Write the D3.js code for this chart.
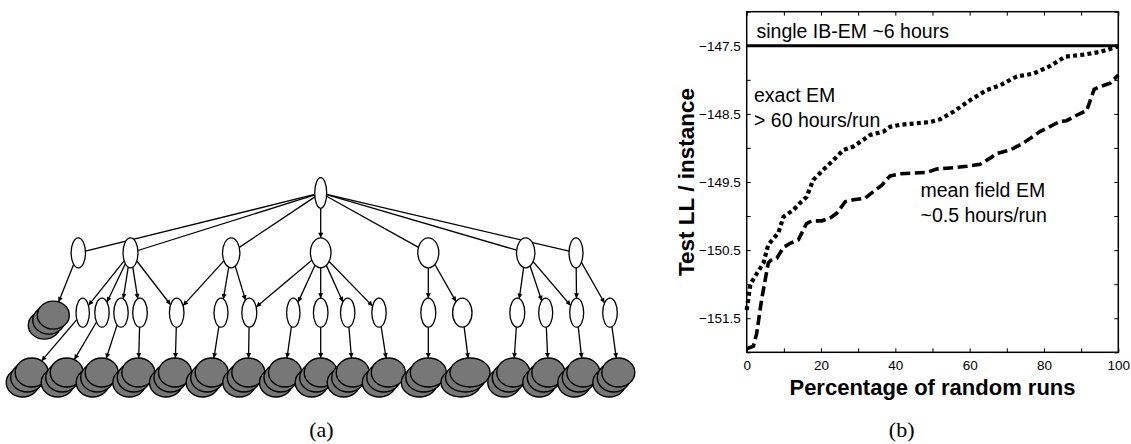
<!DOCTYPE html>
<html><head><meta charset="utf-8">
<script src="https://cdn.jsdelivr.net/npm/d3@7"></script>
<style>
html,body{margin:0;padding:0;background:#fff;}
svg{display:block;}
</style></head>
<body>
<svg id="c" width="1131" height="444"></svg>
<script>
// ---------- Panel (b) data ----------
const exactX = [0,1,2.2,4.5,5.8,8.5,9.9,12.6,14.3,16.1,17.9,20.6,23.3,26,28.7,31.4,33.2,36.8,38.6,41.3,49.3,52,55.6,60.1,64.6,68.2,72.7,77.1,81.6,85.7,90.6,95.1,100];
const exactY = [-151.38,-151.0,-150.89,-150.69,-150.42,-150.25,-150.01,-149.91,-149.81,-149.72,-149.47,-149.32,-149.18,-149.03,-148.98,-148.88,-148.81,-148.76,-148.69,-148.66,-148.62,-148.58,-148.47,-148.3,-148.15,-148.08,-147.95,-147.91,-147.8,-147.66,-147.63,-147.59,-147.51];
const meanX = [0,1.8,2.7,4,5.8,6.5,8.1,9.9,11.7,13.9,16.1,17.5,20.2,22.4,24.2,26.5,28.7,31.8,34.1,36.3,38.6,41.3,48.4,51.1,55.6,59.2,62.8,65.5,67.3,70.9,74.4,78.9,84.3,86.1,88.8,91.5,93.5,95.1,97.8,100];
const meanY = [-151.95,-151.91,-151.72,-151.23,-150.69,-150.65,-150.62,-150.46,-150.4,-150.35,-150.11,-150.07,-150.07,-150.03,-149.96,-149.79,-149.76,-149.74,-149.64,-149.55,-149.41,-149.38,-149.36,-149.31,-149.29,-149.27,-149.24,-149.15,-149.08,-149.03,-148.93,-148.76,-148.61,-148.6,-148.52,-148.45,-148.14,-148.1,-148.05,-147.93];
const ibemValue = -147.5;
const xTicks = [0,10,20,30,40,50,60,70,80,90,100];
const yTicks = [-152,-151.5,-151,-150.5,-150,-149.5,-149,-148.5,-148,-147.5,-147];
const xTitle = "Percentage of random runs";
const yTitle = "Test LL / instance";

// ---------- Panel (a) data (diagram units) ----------
const rootX = [320.7];
const level1X = [78.3,130.5,231.2,320.7,428.3,525.7,576];
const level1Rx = [7.2,7.5,8.7,10.3,10.5,9.2,7];
const level2X = [82.7,102,121,140,176.7,221,249.3,293.3,320.7,347.7,379,428.3,462.3,517.3,545.7,576.7,610];
const level2Rx = [6.7,7.2,7.2,7.3,7.3,7,7.5,6.7,7.3,7.2,7.2,7.5,9.7,7.5,7,7,7.3];
const leafStackX = [53.3];           // observed stack hanging off level 1
const bottomStackX = [31.7,66.7,101.7,138.3,175,211.7,248.3,285,320.7,352.7,388.3,428.3,470,513.3,548.3,583.3,618.3];
const bottomStackRx = [16.5,16.5,16.5,16.5,16.5,16.5,16.5,16.5,16.5,16.5,17,18,20,16.5,16.5,16.5,16.5];
// parent (level1 index) -> children (level2 index)
const l1Children = [[],[0,1,2,3,4],[4,5,6],[6,7,8,9,10],[11,12],[13,14,15],[15,16]];

const svg = d3.select("#c");
const FS = "'Liberation Sans', Arial, Helvetica, sans-serif";

// ================= Panel (a) =================
const gx = d3.scaleLinear().domain([0,640]).range([0,640]);
const gy = d3.scaleLinear().domain([0,3]).range([193,372.5]);
const ga = svg.append("g");
const defs = svg.append("defs");
defs.append("marker").attr("id","arr").attr("viewBox","0 0 10 10")
  .attr("refX",10).attr("refY",5).attr("markerWidth",6).attr("markerHeight",5)
  .attr("markerUnits","userSpaceOnUse").attr("orient","auto")
  .append("path").attr("d","M0,0L10,5L0,10z").attr("fill","#000");

const rootNode = {x:gx(rootX[0]), y:gy(0), rx:6, ry:15.3};
const l1Nodes = level1X.map((v,i)=>({x:gx(v), y:gy(1), rx:level1Rx[i], ry:15}));
const l2Nodes = level2X.map((v,i)=>({x:gx(v), y:gy(2), rx:level2Rx[i], ry:14.5}));
const leafStacks = leafStackX.map(v=>({x:gx(v), y:gy(2)+2.5, rx:16, ry:14}));
const botStacks = bottomStackX.map((v,i)=>({x:gx(v), y:gy(3), rx:bottomStackRx[i], ry:14.5}));

const edges = [];
l1Nodes.forEach(n=>edges.push([rootNode,n]));
edges.push([l1Nodes[0], leafStacks[0]]);
l1Children.forEach((ch,i)=>ch.forEach(j=>edges.push([l1Nodes[i], l2Nodes[j]])));
l2Nodes.forEach((n,i)=>edges.push([n, botStacks[i]]));

function clip(n, dx, dy){
  const s = 1/Math.sqrt((dx/n.rx)**2 + (dy/n.ry)**2);
  return [n.x+dx*s, n.y+dy*s];
}
ga.selectAll("line.e").data(edges).join("line").attr("class","e")
  .each(function(d){
    const [a,b]=d; const dx=b.x-a.x, dy=b.y-a.y;
    const p=clip(a,dx,dy), q=clip(b,-dx,-dy);
    const arrow = Math.abs(dx) < 1.25*Math.abs(dy);
    d3.select(this).attr("x1",p[0]).attr("y1",p[1]).attr("x2",q[0]).attr("y2",q[1])
      .attr("stroke","#000").attr("stroke-width",1.3)
      .attr("marker-end", arrow ? "url(#arr)" : null);
  });

const ovals = [rootNode, ...l1Nodes, ...l2Nodes];
ga.selectAll("ellipse.n").data(ovals).join("ellipse").attr("class","n")
  .attr("cx",d=>d.x).attr("cy",d=>d.y).attr("rx",d=>d.rx).attr("ry",d=>d.ry)
  .attr("fill","#fff").attr("stroke","#000").attr("stroke-width",1.3);

function drawStack(g, s){
  [2,1,0].forEach(k=>{
    g.append("ellipse").attr("cx",s.x-4.5*k).attr("cy",s.y+5*k)
      .attr("rx",s.rx).attr("ry",s.ry)
      .attr("fill","#777").attr("stroke","#000").attr("stroke-width",1.4);
  });
}
[...leafStacks, ...botStacks].forEach(s=>drawStack(ga,s));

ga.append("text").attr("x",321.5).attr("y",437).attr("text-anchor","middle")
  .attr("font-family","'Liberation Serif', 'Times New Roman', serif").attr("font-size",22)
  .text("(a)");

// ================= Panel (b) =================
const x = d3.scaleLinear().domain([0,100]).range([746.7,1118.3]);
const y = d3.scaleLinear().domain([-152,-147]).range([352.3,11.7]);
const gb = svg.append("g");

// axes with inward ticks
const axB = d3.axisBottom(x).tickValues(xTicks).tickSizeInner(-4).tickSizeOuter(0).tickPadding(8.5)
  .tickFormat(d=> d%20===0 ? d : "");
const axT = d3.axisTop(x).tickValues(xTicks).tickSizeInner(-4).tickSizeOuter(0).tickFormat("");
const axL = d3.axisLeft(y).tickValues(yTicks).tickSizeInner(-4).tickSizeOuter(0).tickPadding(6)
  .tickFormat(d=> Math.abs(d%1)===0.5 ? d3.format(".1f")(d) : "");
const axR = d3.axisRight(y).tickValues(yTicks).tickSizeInner(-4).tickSizeOuter(0).tickFormat("");

function styleAxis(g){
  g.select(".domain").remove();
  g.selectAll("line").attr("stroke","#000").attr("stroke-width",1);
  g.selectAll("text").attr("font-family",FS).attr("font-size",13.5).attr("fill","#000");
}
gb.append("g").attr("transform",`translate(0,${y(-152)})`).call(axB).call(styleAxis);
gb.append("g").attr("transform",`translate(0,${y(-147)})`).call(axT).call(styleAxis);
gb.append("g").attr("transform",`translate(${x(0)},0)`).call(axL).call(styleAxis);
gb.append("g").attr("transform",`translate(${x(100)},0)`).call(axR).call(styleAxis);

// frame
gb.append("rect").attr("x",x(0)).attr("y",y(-147)).attr("width",x(100)-x(0)).attr("height",y(-152)-y(-147))
  .attr("fill","none").attr("stroke","#000").attr("stroke-width",1.5);

// IB-EM reference line
gb.append("line").attr("x1",x(0)).attr("x2",x(100)).attr("y1",y(ibemValue)).attr("y2",y(ibemValue))
  .attr("stroke","#000").attr("stroke-width",3);

const line = d3.line().x(d=>x(d[0])).y(d=>y(d[1]));
gb.append("path").datum(exactX.map((v,i)=>[v,exactY[i]])).attr("d",line)
  .attr("fill","none").attr("stroke","#000").attr("stroke-width",4.2).attr("stroke-dasharray","4,3.2");
gb.append("path").datum(meanX.map((v,i)=>[v,meanY[i]])).attr("d",line)
  .attr("fill","none").attr("stroke","#000").attr("stroke-width",3.6).attr("stroke-dasharray","10,4.5");

// annotations
function ann(t, xx, yy){
  gb.append("text").attr("x",xx).attr("y",yy).attr("font-family",FS).attr("font-size",19.5)
    .attr("fill","#000").text(t);
}
ann("single IB-EM ~6 hours", 756.5, 38);
ann("exact EM", 754, 101.5);
ann("> 60 hours/run", 754, 126.5);
ann("mean field EM", 920.5, 196.5);
ann("~0.5 hours/run", 920.5, 221.5);

// axis titles
gb.append("text").attr("x",(x(0)+x(100))/2).attr("y",395).attr("text-anchor","middle")
  .attr("font-family",FS).attr("font-weight","bold").attr("font-size",22).text(xTitle);
gb.append("text").attr("transform",`translate(694,${(y(-147)+y(-152))/2}) rotate(-90)`)
  .attr("text-anchor","middle").attr("font-family",FS).attr("font-weight","bold").attr("font-size",22.5).text(yTitle);

gb.append("text").attr("x",901.7).attr("y",437).attr("text-anchor","middle")
  .attr("font-family","'Liberation Serif', 'Times New Roman', serif").attr("font-size",22)
  .text("(b)");
</script>
</body></html>
